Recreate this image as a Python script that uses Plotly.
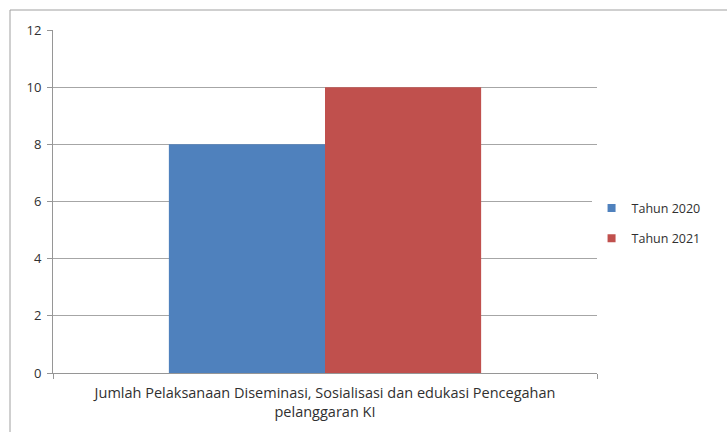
import plotly.graph_objects as go

category = ["Jumlah Pelaksanaan Diseminasi, Sosialisasi dan edukasi Pencegahan<br>pelanggaran KI"]
series_names = ["Tahun 2020", "Tahun 2021"]
values_2020 = [8]
values_2021 = [10]
colors = ["#4F81BD", "#C0504D"]
y_ticks = [0, 2, 4, 6, 8, 10, 12]

fig = go.Figure()
for name, vals, col in zip(series_names, [values_2020, values_2021], colors):
    fig.add_trace(go.Bar(x=[0], y=vals, name=name, showlegend=False,
                         marker=dict(color=col, line=dict(width=0))))
for i, (name, col) in enumerate(zip(series_names, colors)):
    fig.add_trace(go.Scatter(x=[None], y=[None], mode="markers", name=name,
                             legendgroup=f"g{i}",
                             marker=dict(symbol="square", size=8, color=col)))

fig.update_layout(
    width=727, height=432,
    margin=dict(l=53, r=130, t=30, b=59),
    paper_bgcolor="white", plot_bgcolor="white",
    barmode="group", bargap=0.426, bargroupgap=0,
    font=dict(family="Open Sans, sans-serif", size=12, color="#404040"),
    showlegend=True,
    legend=dict(x=0.99, y=0.436, xanchor="left", yanchor="middle",
                font=dict(size=12.5, color="#303030"), tracegroupgap=11,
                itemwidth=30),
    xaxis=dict(range=[-0.5, 0.5], tickvals=[0], ticktext=category,
               ticks="", showgrid=False, showline=True, linecolor="#969696",
               linewidth=1, zeroline=False, tickfont=dict(size=14.5, color="#303030"),
               ticklabelstandoff=7,
               minor=dict(tick0=-0.5, dtick=1, ticks="outside", ticklen=5,
                          tickcolor="#969696", showgrid=False)),
    yaxis=dict(range=[0, 12], tickvals=y_ticks, showgrid=True, gridcolor="#a6a6a6",
               gridwidth=1, showline=True, linecolor="#969696", linewidth=1,
               ticks="outside", ticklen=5, tickcolor="#969696", zeroline=False,
               ticklabelstandoff=3,
               tickfont=dict(size=13, color="#303030")),
)

fig.add_shape(type="rect", xref="paper", yref="paper",
              x0=-43/544, x1=1.5, y0=-0.3, y1=1 + 20/343,
              line=dict(color="#a0a0a0", width=1), fillcolor="rgba(0,0,0,0)", layer="below")

fig.write_html("out.html")
